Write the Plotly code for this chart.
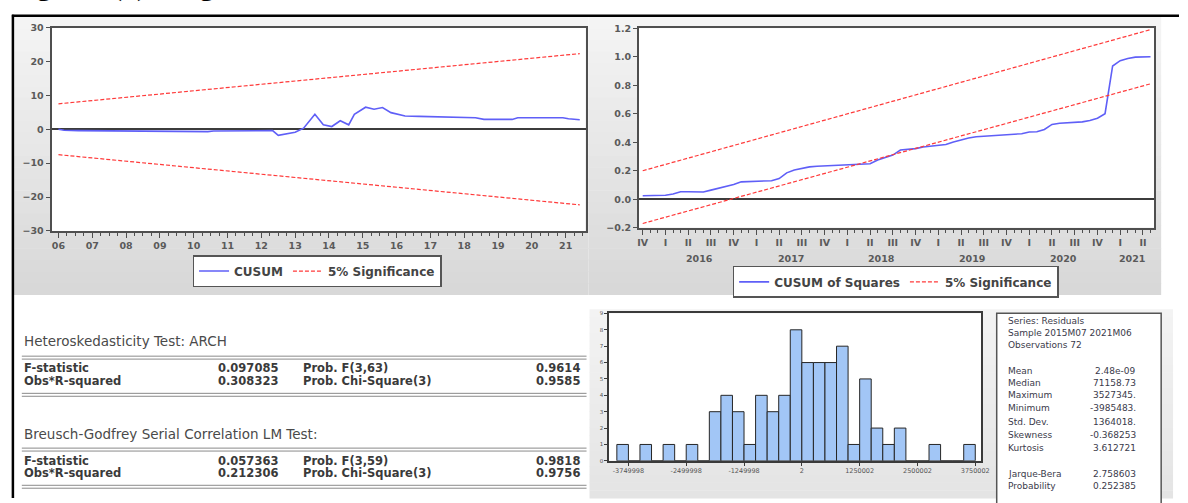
import pandas as pd
import plotly.graph_objects as go

# ---------------------------------------------------------------- data
# CUSUM of recursive residuals (monthly; values at the turning points of the path)
cusum_dates = ["2006-01", "2006-03", "2006-08", "2008-02", "2008-04", "2010-06", "2010-08",
               "2012-05", "2012-07", "2013-01", "2013-04", "2013-08", "2013-11", "2014-02",
               "2014-05", "2014-08", "2014-10", "2015-02", "2015-05", "2015-08", "2015-11",
               "2016-04", "2016-09", "2017-09", "2018-05", "2018-08", "2019-06", "2019-08",
               "2020-12", "2021-02", "2021-06"]
cusum_values = [0.0, -0.3, -0.4, -0.5, -0.7, -0.7, -0.5,
                -0.4, -1.8, -0.9, 0.3, 4.4, 1.3, 0.8,
                2.5, 1.3, 4.4, 6.5, 5.9, 6.4, 4.9,
                3.9, 3.8, 3.6, 3.4, 2.9, 2.9, 3.4,
                3.4, 3.1, 2.8]
cusum_band_dates = ["2006-01", "2021-06"]
cusum_band_upper = [7.5, 22.3]
cusum_band_lower = [-7.5, -22.3]
cusum_year_ticks = list(range(2006, 2022))
cusum_year_labels = ["06", "07", "08", "09", "10", "11", "12", "13",
                     "14", "15", "16", "17", "18", "19", "20", "21"]

# CUSUM of squares (monthly, 2015M11 - 2021M06)
cusumsq_start = "2015-11"
cusumsq_values = [0.024, 0.024, 0.024, 0.028, 0.037, 0.053, 0.052, 0.051, 0.051, 0.064,
                  0.078, 0.087, 0.103, 0.122, 0.123, 0.123, 0.124, 0.130, 0.145, 0.185,
                  0.205, 0.218, 0.227, 0.231, 0.234, 0.239, 0.242, 0.244, 0.246, 0.246,
                  0.249, 0.275, 0.295, 0.310, 0.345, 0.350, 0.355, 0.367, 0.373, 0.375,
                  0.384, 0.402, 0.418, 0.430, 0.438, 0.442, 0.443, 0.445, 0.449, 0.453,
                  0.460, 0.472, 0.474, 0.490, 0.525, 0.533, 0.535, 0.538, 0.543, 0.552,
                  0.568, 0.600, 0.935, 0.972, 0.988, 0.997, 1.000, 1.000]
cusumsq_band_dates = ["2015-11", "2021-06"]
cusumsq_band_upper = [0.20, 1.19]
cusumsq_band_lower = [-0.17, 0.81]
quarter_names = ["I", "II", "III", "IV"]
cusumsq_quarters = ["2015Q4", "2016Q1", "2016Q2", "2016Q3", "2016Q4", "2017Q1", "2017Q2",
                    "2017Q3", "2017Q4", "2018Q1", "2018Q2", "2018Q3", "2018Q4", "2019Q1",
                    "2019Q2", "2019Q3", "2019Q4", "2020Q1", "2020Q2", "2020Q3", "2020Q4",
                    "2021Q1", "2021Q2"]
cusumsq_years = ["2016", "2017", "2018", "2019", "2020", "2021"]

# Residual histogram (bin counts)
hist_first_edge = -3999998
hist_bin_width = 250000
hist_counts = [1, 0, 1, 0, 1, 0, 1, 0, 3, 4, 3, 1, 4, 3, 4, 8,
               6, 6, 6, 7, 1, 5, 2, 1, 2, 0, 0, 1, 0, 0, 1]
hist_tick_vals = [-3749998, -2499998, -1249998, 2, 1250002, 2500002, 3750002]

# Descriptive statistics of the residuals
stats_header = ["Series: Residuals", "Sample 2015M07 2021M06", "Observations 72"]
stats_names = ["Mean", "Median", "Maximum", "Minimum", "Std. Dev.", "Skewness", "Kurtosis"]
stats_values = ["2.48e-09", "71158.73", "3527345.", "-3985483.", "1364018.", "-0.368253", "3.612721"]
jb_names = ["Jarque-Bera", "Probability"]
jb_values = ["2.758603", "0.252385"]

# Residual diagnostic tests
arch_title = "Heteroskedasticity Test: ARCH"
arch_stat_names = ["F-statistic", "Obs*R-squared"]
arch_stat_values = ["0.097085", "0.308323"]
arch_prob_names = ["Prob. F(3,63)", "Prob. Chi-Square(3)"]
arch_prob_values = ["0.9614", "0.9585"]
bg_title = "Breusch-Godfrey Serial Correlation LM Test:"
bg_stat_names = ["F-statistic", "Obs*R-squared"]
bg_stat_values = ["0.057363", "0.212306"]
bg_prob_names = ["Prob. F(3,59)", "Prob. Chi-Square(3)"]
bg_prob_values = ["0.9818", "0.9756"]

# ---------------------------------------------------------------- helpers
W, H = 1188, 503


def px(x):
    return x / W


def py(y):
    return 1 - y / H


def month_pos(s):
    p = pd.Period(s, freq="M")
    return p.year + (p.month - 1) / 12


def quarter_pos(q):
    p = pd.Period(q, freq="Q")
    return p.year + (3 * (p.quarter - 1) + 1) / 12


BLUE = "#5f5ff7"
RED = "#ff3a3a"
FRAME = "#4f4f4f"
SANS = "DejaVu Sans"
TICKFONT = dict(family=SANS, size=9.5, color="#5a5a5a", weight="bold")

fig = go.Figure()

# ---- CUSUM
cx = [month_pos(d) for d in cusum_dates]
fig.add_trace(go.Scatter(x=cx, y=cusum_values, mode="lines", name="CUSUM",
                         line=dict(color=BLUE, width=1.6), xaxis="x", yaxis="y",
                         legend="legend"))
bx = [month_pos(d) for d in cusum_band_dates]
fig.add_trace(go.Scatter(x=bx + [None] + bx, y=cusum_band_upper + [None] + cusum_band_lower,
                         mode="lines", name="5% Significance", connectgaps=False,
                         line=dict(color=RED, width=1.2, dash="4px,2px"),
                         xaxis="x", yaxis="y", legend="legend"))

# ---- CUSUM of squares
sq_periods = pd.period_range(cusumsq_start, periods=len(cusumsq_values), freq="M")
sx = [p.year + (p.month - 1) / 12 for p in sq_periods]
fig.add_trace(go.Scatter(x=sx, y=cusumsq_values, mode="lines", name="CUSUM of Squares",
                         line=dict(color=BLUE, width=1.6), xaxis="x2", yaxis="y2",
                         legend="legend2"))
sbx = [month_pos(d) for d in cusumsq_band_dates]
fig.add_trace(go.Scatter(x=sbx + [None] + sbx,
                         y=cusumsq_band_upper + [None] + cusumsq_band_lower,
                         mode="lines", name="5% Significance", connectgaps=False,
                         line=dict(color=RED, width=1.2, dash="4px,2px"),
                         xaxis="x2", yaxis="y2", legend="legend2"))

# ---- histogram of residuals
centers = [hist_first_edge + (i + 0.5) * hist_bin_width for i in range(len(hist_counts))]
fig.add_trace(go.Bar(x=centers, y=hist_counts, width=hist_bin_width, showlegend=False,
                     marker=dict(color="#a2c6f6", line=dict(color="#262626", width=1)),
                     xaxis="x3", yaxis="y3"))

# ---------------------------------------------------------------- panels
shapes = []


def gradient_panel(x0, x1, y0, y1, top, bottom, n=24):
    for i in range(n):
        t = i / (n - 1)
        c = tuple(round(a + (b - a) * t) for a, b in zip(top, bottom))
        ya = y0 + (y1 - y0) * i / n
        yb = y0 + (y1 - y0) * (i + 1) / n + 0.5
        shapes.append(dict(type="rect", xref="paper", yref="paper", layer="below",
                           x0=px(x0), x1=px(x1), y0=py(yb), y1=py(ya),
                           fillcolor="rgb(%d,%d,%d)" % c, line=dict(width=0)))


gradient_panel(12, 592, 11, 295, (244, 244, 244), (216, 216, 216))
gradient_panel(592, 1170, 11, 295, (244, 244, 244), (216, 216, 216))
gradient_panel(593, 1182, 310, 503, (243, 243, 243), (228, 228, 228))

for xr, yr in (("x", "y"), ("x2", "y2"), ("x3", "y3")):
    shapes.append(dict(type="rect", xref=xr + " domain", yref=yr + " domain", layer="below",
                       x0=0, x1=1, y0=0, y1=1, fillcolor="white", line=dict(width=0)))

# statistics box
shapes.append(dict(type="rect", xref="paper", yref="paper", layer="below",
                   x0=px(1004), x1=px(1170), y0=py(510), y1=py(314),
                   fillcolor="white", line=dict(color="#555555", width=1.5)))

# page rules
shapes.append(dict(type="line", xref="paper", yref="paper", x0=px(10), x1=1,
                   y0=py(10), y1=py(10), line=dict(color="black", width=2.5)))
shapes.append(dict(type="line", xref="paper", yref="paper", x0=px(11), x1=px(11),
                   y0=py(9), y1=0, line=dict(color="black", width=2.5)))

# double rules of the test tables
for yy in (358, 396, 452, 490):
    for off in (0, 3):
        shapes.append(dict(type="line", xref="paper", yref="paper", x0=px(20), x1=px(590),
                           y0=py(yy + off), y1=py(yy + off),
                           line=dict(color="#8a8a8a", width=1)))

# ---------------------------------------------------------------- text
ann = []


def text(x, y, s, size=11, color="#333333", anchor="left", weight="normal", family=SANS):
    ann.append(dict(x=px(x), y=py(y), xref="paper", yref="paper", text=s, showarrow=False,
                    xanchor=anchor, yanchor="middle",
                    font=dict(family=family, size=size, color=color, weight=weight)))


# heading (runs off the top edge of the page)
ann.append(dict(x=px(6), y=py(-2.5), xref="paper", yref="paper",
                text="Figure: (4) Diagnostic Tests", showarrow=False,
                xanchor="left", yanchor="bottom",
                font=dict(family="Liberation Serif", size=30, color="black", weight="bold")))

# year labels under the quarter labels
for yl in cusumsq_years:
    qs = [quarter_pos(q) for q in cusumsq_quarters if q.startswith(yl)]
    ann.append(dict(x=(min(qs) + max(qs)) / 2, y=py(258), xref="x2", yref="paper",
                    text=yl, showarrow=False, xanchor="center", yanchor="middle",
                    font=TICKFONT))

# test tables
ROW = dict(size=11.5, color="#3a3a3a", weight="bold")
text(20, 343, arch_title, size=13.5, color="#4a4a4a")
for i, yy in enumerate((370, 383)):
    text(20, yy, arch_stat_names[i], **ROW)
    text(281, yy, arch_stat_values[i], anchor="right", **ROW)
    text(302, yy, arch_prob_names[i], **ROW)
    text(585, yy, arch_prob_values[i], anchor="right", **ROW)
text(20, 438, bg_title, size=13.5, color="#4a4a4a")
for i, yy in enumerate((465, 477)):
    text(20, yy, bg_stat_names[i], **ROW)
    text(281, yy, bg_stat_values[i], anchor="right", **ROW)
    text(302, yy, bg_prob_names[i], **ROW)
    text(585, yy, bg_prob_values[i], anchor="right", **ROW)

# statistics box
for s, yy in zip(stats_header, (322, 334, 347)):
    text(1013, yy, s, size=9, color="#3a3a4a")
for s, v, yy in zip(stats_names, stats_values, (373, 385, 398, 411, 425, 439, 452)):
    text(1013, yy, s, size=9, color="#3a3a4a")
    text(1147, yy, v, size=9, color="#3a3a4a", anchor="right")
for s, v, yy in zip(jb_names, jb_values, (478, 491)):
    text(1013, yy, s, size=9, color="#3a3a4a")
    text(1147, yy, v, size=9, color="#3a3a4a", anchor="right")

# ---------------------------------------------------------------- axes
frame = dict(showline=True, mirror=True, linecolor=FRAME, linewidth=2, showgrid=False,
             ticks="outside", tickcolor=FRAME, tickwidth=1, tickfont=TICKFONT)

legend_style = dict(orientation="h", xanchor="center", yanchor="middle", bgcolor="white",
                    bordercolor="#555555", borderwidth=1.5,
                    font=dict(family=SANS, size=12, color="#444444", weight="bold"),
                    itemwidth=30, tracegroupgap=0)

q_vals = [quarter_pos(q) for q in cusumsq_quarters]
q_text = [quarter_names[pd.Period(q, freq="Q").quarter - 1] for q in cusumsq_quarters]

fig.update_layout(
    width=W, height=H, autosize=False,
    margin=dict(l=0, r=0, t=0, b=0),
    paper_bgcolor="white", plot_bgcolor="white",
    showlegend=True,
    shapes=shapes, annotations=ann,
    legend=dict(x=px(318), y=py(271), **legend_style),
    legend2=dict(x=px(902), y=py(282), **legend_style),
    xaxis=dict(domain=[px(50), px(589)], range=[2005.795, 2021.588], anchor="y",
               tickmode="array", tickvals=cusum_year_ticks, ticktext=cusum_year_labels,
               ticklen=5, zeroline=False,
               minor=dict(tickmode="linear", tick0=2006, dtick=0.25, ticks="outside",
                          ticklen=3, tickcolor=FRAME),
               **frame),
    yaxis=dict(domain=[py(230), py(22)], range=[-30, 30], anchor="x",
               tickmode="array", tickvals=[-30, -20, -10, 0, 10, 20, 30], ticklen=4,
               zeroline=True, zerolinecolor="#3c3c3c", zerolinewidth=2, **frame),
    xaxis2=dict(domain=[px(643), px(1163)], range=[2015.793, 2021.4575], anchor="y2",
                tickmode="array", tickvals=q_vals, ticktext=q_text, ticklen=5,
                zeroline=False,
                minor=dict(tickmode="linear", tick0=2015 + 10 / 12, dtick=1 / 12,
                           ticks="outside", ticklen=3, tickcolor=FRAME),
                **frame),
    yaxis2=dict(domain=[py(226.7), py(22.7)], range=[-0.2, 1.2], anchor="x2",
                tickmode="array", tickvals=[-0.2, 0, 0.2, 0.4, 0.6, 0.8, 1.0, 1.2],
                tickformat=".1f", ticklen=4,
                zeroline=True, zerolinecolor="#3c3c3c", zerolinewidth=2, **frame),
    xaxis3=dict(domain=[px(612.7), px(988.3)], range=[-4169000, 3877000], anchor="y3",
                tickmode="array", tickvals=hist_tick_vals,
                ticktext=[str(v) for v in hist_tick_vals], ticklen=3, zeroline=False,
                showline=True, mirror=True, linecolor="#3a3a3a", linewidth=1.5,
                showgrid=False, ticks="outside", tickcolor="#3a3a3a",
                tickfont=dict(family=SANS, size=6.5, color="#555555")),
    yaxis3=dict(domain=[py(465), py(314.3)], range=[0, 9], anchor="x3",
                tickmode="array", tickvals=list(range(10)), ticklen=3, zeroline=False,
                showline=True, mirror=True, linecolor="#3a3a3a", linewidth=1.5,
                showgrid=False, ticks="outside", tickcolor="#3a3a3a",
                tickfont=dict(family=SANS, size=5.5, color="#555555")),
)

fig.write_html("out.html")
